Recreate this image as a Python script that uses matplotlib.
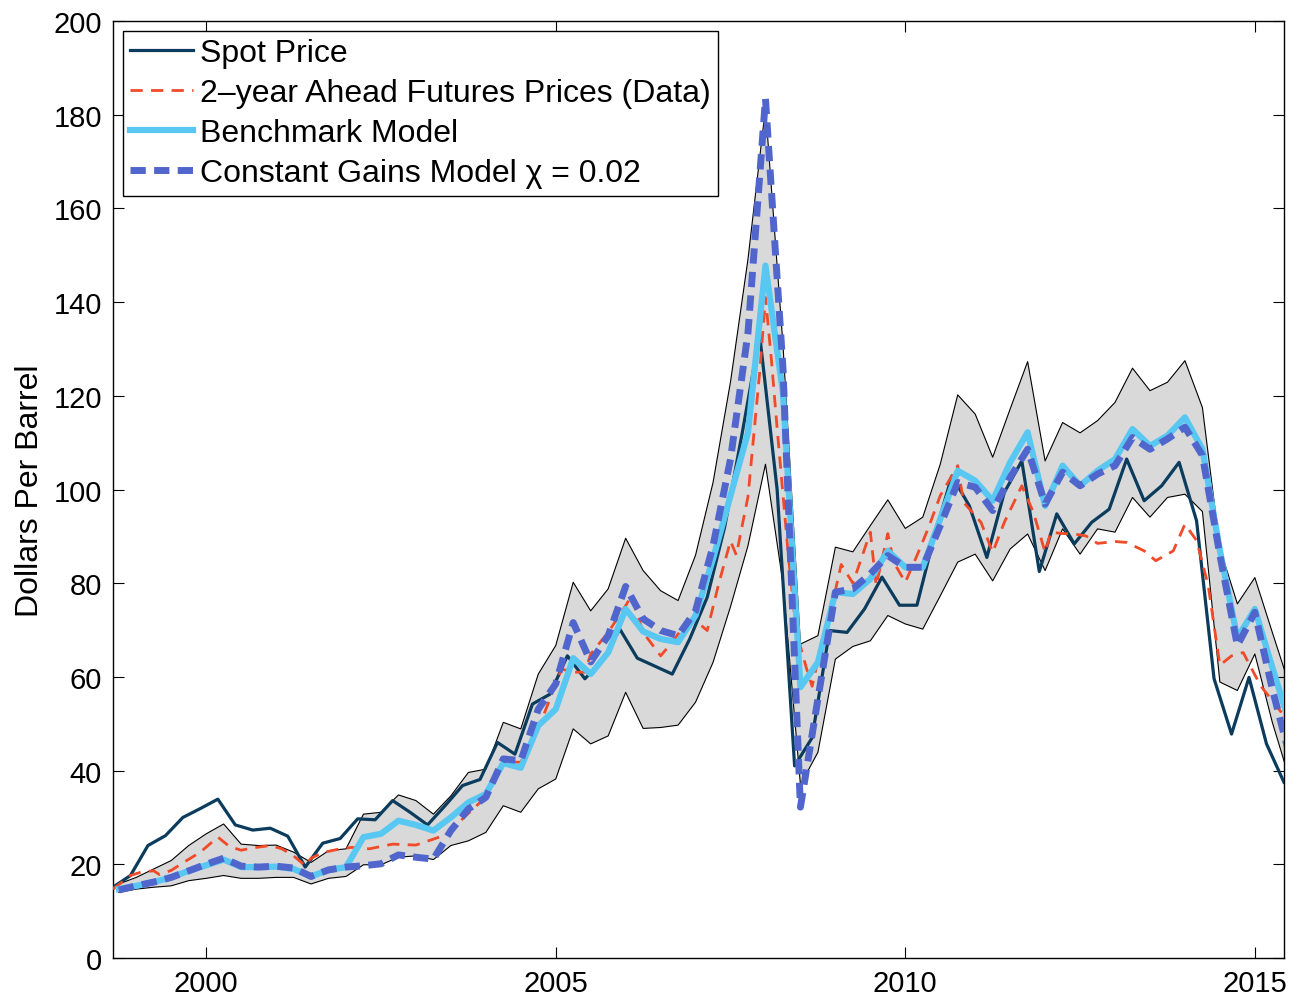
import numpy as np
import matplotlib
matplotlib.use('Agg')
import matplotlib.pyplot as plt

plt.rcParams['font.family'] = ['Liberation Sans', 'DejaVu Sans']

# spot price, quarterly (Sep/Dec/Mar/Jun) from 1998.667
spot_start = 1998 + 8 / 12
spot_price = [15.1, 17.6, 24.0, 26.1, 30.0, 31.9, 33.9, 28.4, 27.3, 27.7,
              26.0, 19.4, 24.5, 25.5, 29.7, 29.5, 33.6, 31.1, 28.4, 32.5,
              36.8, 38.1, 46.0, 43.5, 54.2, 56.3, 64.5, 59.6, 63.5, 70.2,
              64.0, 62.3, 60.6, 68.1, 77.0, 92.0, 112.0, 133.0, 100.0, 41.0,
              47.0, 69.9, 69.5, 74.5, 81.3, 75.3, 75.3, 90.1, 102.9, 96.5,
              85.5, 99.4, 106.1, 82.5, 94.8, 88.4, 93.0, 95.8, 106.5, 97.6,
              100.8, 105.8, 93.3, 59.6, 47.8, 59.9, 45.7, 37.5]

# 2-year ahead futures (data), read at turning points
fut_date = [1998.667, 1998.917, 1999.083, 1999.25, 1999.333, 1999.5, 1999.667, 1999.917,
            2000.167, 2000.333, 2000.5, 2000.667, 2000.917, 2001.083, 2001.25, 2001.417,
            2001.5, 2001.667, 2001.917, 2002.083, 2002.333, 2002.5, 2002.667, 2003.0,
            2003.333, 2003.5, 2003.667, 2003.917, 2004.167, 2004.25, 2004.5, 2004.75,
            2004.917, 2005.083, 2005.25, 2005.417, 2005.5, 2005.75, 2006.0, 2006.083,
            2006.25, 2006.5, 2006.667, 2006.833, 2007.0, 2007.167, 2007.333, 2007.5,
            2007.583, 2007.75, 2007.917, 2008.0, 2008.083, 2008.167, 2008.25, 2008.333,
            2008.417, 2008.5, 2008.583, 2008.667, 2008.75, 2008.833, 2008.917, 2009.0,
            2009.083, 2009.25, 2009.5, 2009.583, 2009.75, 2009.833, 2010.0, 2010.167,
            2010.333, 2010.5, 2010.75, 2010.833, 2011.083, 2011.25, 2011.417, 2011.667,
            2011.833, 2012.0, 2012.083, 2012.25, 2012.417, 2012.583, 2012.75, 2013.0,
            2013.167, 2013.417, 2013.583, 2013.833, 2014.0, 2014.167, 2014.333, 2014.417,
            2014.5, 2014.667, 2014.833, 2014.917, 2015.083, 2015.25, 2015.417]
fut_price = [14.7, 17.6, 18.4, 18.6, 17.8, 18.7, 20.3, 22.6,
             25.8, 23.8, 23.0, 23.5, 24.0, 23.3, 21.8, 19.7,
             21.3, 22.5, 23.3, 23.6, 23.3, 23.8, 24.3, 24.1,
             25.8, 26.8, 29.7, 33.2, 39.6, 41.8, 41.8, 48.9,
             55.3, 61.7, 61.0, 61.0, 64.9, 69.5, 75.2, 77.3,
             69.5, 64.5, 67.4, 70.9, 72.0, 69.9, 80.0, 89.0,
             86.0, 98.5, 125.0, 141.0, 128.0, 113.0, 99.0, 85.0,
             73.0, 66.5, 62.0, 58.0, 63.5, 69.0, 74.0, 78.5,
             84.0, 80.0, 90.9, 79.5, 90.6, 84.5, 80.2, 85.9,
             91.9, 98.7, 105.1, 97.3, 93.0, 86.6, 93.0, 100.8,
             95.1, 86.6, 90.9, 90.6, 90.5, 90.1, 88.5, 88.9,
             88.7, 86.9, 84.8, 86.9, 92.6, 89.1, 79.5, 70.9,
             62.5, 64.5, 65.2, 62.8, 58.1, 54.9, 51.7]

# model series, quarterly from 1998.75
model_start = 1998.75
benchmark = [14.7, 15.4, 16.2, 17.2, 18.6, 19.8, 21.0, 19.4, 19.4, 19.5,
             19.0, 17.4, 18.8, 19.4, 25.8, 26.5, 29.3, 28.4, 27.2, 30.0,
             33.2, 35.0, 41.6, 40.6, 49.6, 53.1, 64.0, 60.6, 65.2, 74.5,
             69.7, 68.1, 67.4, 73.1, 85.2, 98.7, 112.2, 147.8, 120.7, 57.8,
             63.1, 78.1, 77.7, 80.9, 86.9, 83.4, 83.4, 93.7, 104.0, 101.9,
             97.6, 105.8, 112.2, 96.5, 105.1, 100.8, 104.0, 106.5, 112.9, 109.3,
             111.5, 115.4, 108.6, 87.0, 68.3, 74.5, 62.0, 50.0]
const_gain = [14.5, 15.4, 16.2, 17.2, 18.6, 20.0, 21.3, 19.6, 19.4, 19.6,
              19.2, 17.4, 18.8, 19.4, 19.7, 20.1, 22.0, 21.5, 21.1, 27.2,
              31.8, 34.3, 42.5, 42.1, 53.1, 58.5, 71.6, 63.2, 68.8, 79.3,
              72.4, 69.9, 68.8, 74.1, 88.0, 106.5, 133.5, 183.4, 126.0, 32.2,
              55.3, 78.1, 78.8, 82.0, 85.9, 83.4, 83.4, 92.3, 101.5, 100.5,
              95.5, 102.6, 108.6, 96.9, 103.7, 100.8, 103.3, 105.1, 111.1, 108.6,
              110.8, 113.3, 107.3, 86.0, 66.7, 73.8, 57.4, 43.0]
band_hi = [15.8, 17.2, 19.0, 20.8, 24.0, 26.5, 28.6, 24.3, 24.0, 24.1,
           22.6, 20.4, 22.9, 23.3, 30.7, 31.1, 34.8, 33.6, 30.7, 34.6,
           39.6, 40.3, 50.3, 48.9, 60.6, 66.7, 80.2, 74.1, 78.8, 89.6,
           82.7, 78.4, 76.3, 86.0, 101.5, 123.0, 149.2, 181.5, 131.0, 67.0,
           68.8, 87.7, 86.7, 92.3, 97.8, 91.7, 94.1, 105.4, 120.2, 116.1,
           106.9, 117.2, 127.3, 106.1, 114.3, 112.1, 114.7, 118.6, 125.9, 121.1,
           122.9, 127.5, 117.5, 87.5, 75.6, 81.2, 69.5, 58.0]
band_lo = [14.0, 14.7, 15.1, 15.4, 16.5, 17.0, 17.6, 17.0, 17.0, 17.2,
           17.2, 15.8, 17.0, 17.4, 19.9, 19.9, 21.5, 21.8, 21.0, 24.0,
           25.0, 26.8, 32.5, 31.1, 36.1, 38.2, 48.9, 45.7, 47.4, 56.7,
           49.0, 49.2, 49.7, 54.6, 63.1, 75.0, 88.0, 105.4, 80.0, 37.0,
           43.9, 63.8, 66.5, 67.7, 73.1, 71.3, 70.2, 77.3, 84.5, 86.2,
           80.5, 87.3, 90.5, 82.7, 91.6, 86.2, 91.6, 90.9, 98.3, 94.1,
           98.3, 99.0, 95.3, 58.9, 57.1, 64.9, 50.3, 38.0]

spot_t = spot_start + 0.25 * np.arange(len(spot_price))
model_t = model_start + 0.25 * np.arange(len(benchmark))

fig = plt.figure(figsize=(13.03, 10.03), dpi=100)
ax = fig.add_axes([0.0867, 0.0439, 0.8987, 0.9341])

ax.fill_between(model_t, band_lo, band_hi, facecolor='#d9d9d9', edgecolor='none', zorder=1)
ax.plot(model_t, band_hi, color='black', lw=0.8, zorder=2)
ax.plot(model_t, band_lo, color='black', lw=0.8, zorder=2)

ax.plot(spot_t, spot_price, color='#0b3c5d', lw=2.3, zorder=3, label='Spot Price')
ax.plot(fut_date, fut_price, color='#f04a28', lw=2.0, dashes=(4.4, 3.0), zorder=4,
        label='2\u2013year Ahead Futures Prices (Data)')
ax.plot(model_t, benchmark, color='#58c8f2', lw=4.5, zorder=5, label='Benchmark Model')
ax.plot(model_t, const_gain, color='#5166cc', lw=5.0, dashes=(2.2, 1.2), zorder=6,
        label='Constant Gains Model \u03c7 = 0.02')

ax.set_xlim(1998 + 8 / 12, 2015 + 5 / 12)
ax.set_ylim(0, 200)
ax.set_xticks([2000, 2005, 2010, 2015])
ax.set_yticks(np.arange(0, 201, 20))
ax.tick_params(direction='in', length=8, width=0.8, labelsize=21, pad=8,
               top=True, right=True)
for s in ax.spines.values():
    s.set_linewidth(1.0)
ax.set_ylabel('Dollars Per Barrel', fontsize=23, labelpad=6)

leg = ax.legend(loc='upper left', fontsize=23, frameon=True, fancybox=False,
                edgecolor='black', framealpha=1, borderaxespad=0.3,
                handlelength=1.95, handletextpad=0.22, labelspacing=0.31,
                borderpad=0.24)
leg.get_frame().set_linewidth(1.0)

fig.savefig('out.png', dpi=100)
